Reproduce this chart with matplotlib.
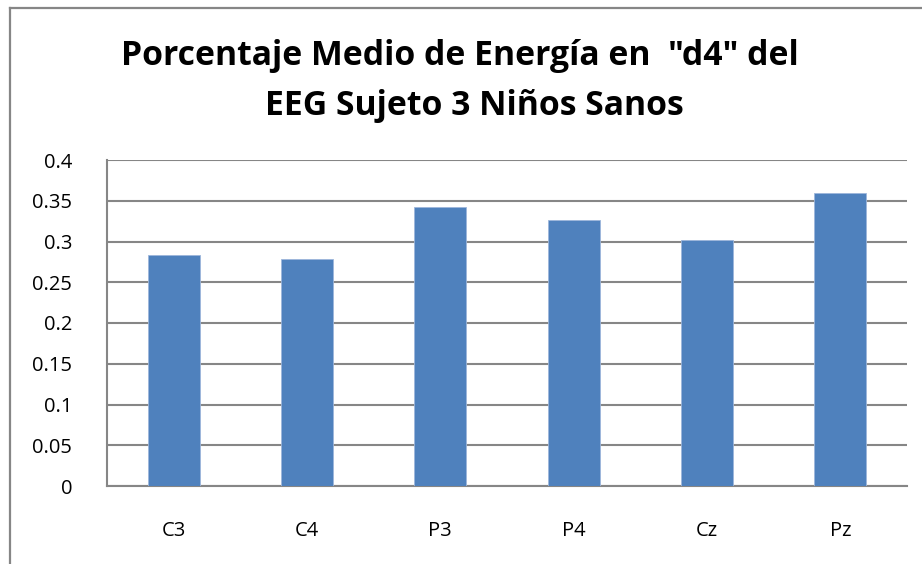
import matplotlib.pyplot as plt
from matplotlib.lines import Line2D
import numpy as np

channels = ["C3", "C4", "P3", "P4", "Cz", "Pz"]
energy = [0.283, 0.278, 0.342, 0.326, 0.302, 0.359]
yticks = [0, 0.05, 0.1, 0.15, 0.2, 0.25, 0.3, 0.35, 0.4]
ytick_labels = ["0", "0.05", "0.1", "0.15", "0.2", "0.25", "0.3", "0.35", "0.4"]
title_lines = ['Porcentaje Medio de Energía en  "d4" del', "EEG Sujeto 3 Niños Sanos"]

plt.rcParams["font.family"] = ["Open Sans", "DejaVu Sans"]

W, H = 922, 564
fig = plt.figure(figsize=(W / 100, H / 100), dpi=100)

# plot area in pixel units
left, right, top, bottom = 107, 907, 160, 486
ax = fig.add_axes([left / W, 1 - bottom / H, (right - left) / W, (bottom - top) / H])

grid_col = "#868686"
x = np.arange(len(channels))
ax.bar(x, energy, width=0.39, color="#4F81BD", edgecolor="#9DB6DB", linewidth=0.6, zorder=3)

ax.set_xlim(-0.5, len(channels) - 0.5)
ax.set_ylim(0, 0.4)
ax.set_yticks(yticks)
ax.set_yticklabels(ytick_labels)
ax.set_xticks(x)
ax.set_xticklabels(channels)
ax.tick_params(axis="both", length=0, labelsize=14.5, colors="black")
ax.tick_params(axis="y", pad=25)
ax.tick_params(axis="x", pad=25)

ax.grid(axis="y", color=grid_col, linewidth=1.5, zorder=0)
for s in ["top", "right"]:
    ax.spines[s].set_visible(False)
ax.spines["left"].set_color(grid_col)
ax.spines["left"].set_linewidth(1.5)
ax.spines["bottom"].set_color(grid_col)
ax.spines["bottom"].set_linewidth(1.5)

# outer chart border (only top and left edges fall inside the image)
bx, by = 10 / W, 1 - 8 / H
fig.add_artist(Line2D([bx, bx], [by, 0], transform=fig.transFigure, color=grid_col, linewidth=1.6))
fig.add_artist(Line2D([bx, 1], [by, by], transform=fig.transFigure, color=grid_col, linewidth=1.6))

# two-line title, each line placed on its own baseline
for txt, cx, base in zip(title_lines, [460, 474], [65, 115]):
    fig.text(cx / W, 1 - base / H, txt, ha="center", va="baseline",
             fontsize=24.3, fontweight="bold")

fig.savefig("out.png", dpi=100)
